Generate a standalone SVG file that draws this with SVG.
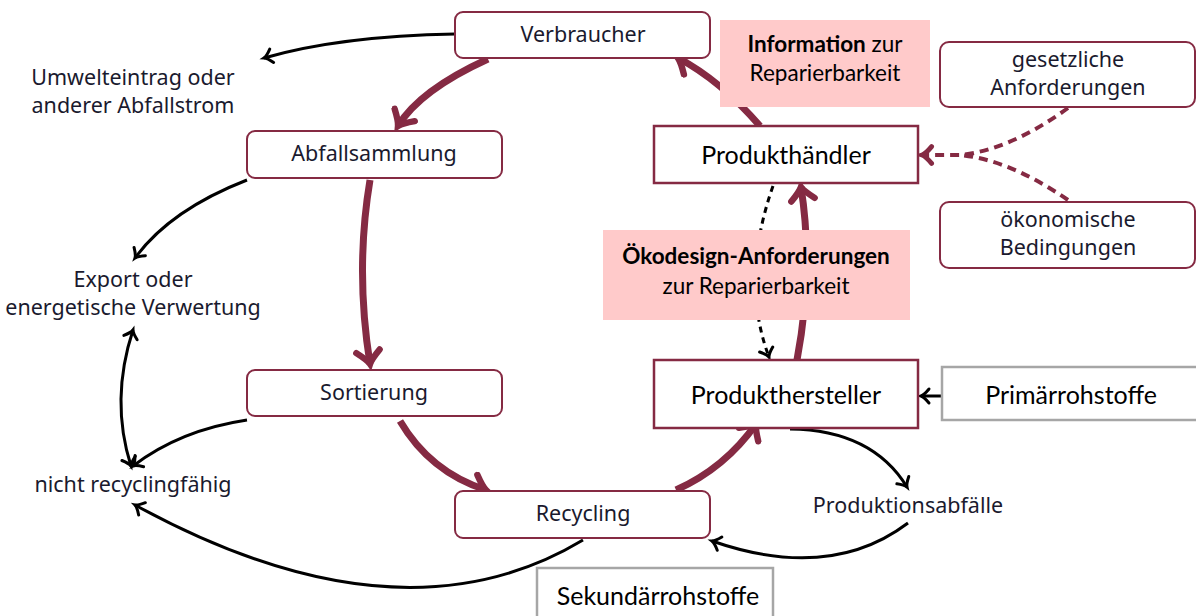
<svg xmlns="http://www.w3.org/2000/svg" width="1196" height="616" viewBox="0 0 1196 616">
<style>
.rn{fill:#fff;stroke:#852a43;stroke-width:2}
.sq{fill:#fff;stroke:#852a43;stroke-width:2.5}
.gr{fill:#fff;stroke:#a6a6a6;stroke-width:2.5}
.pk{fill:#ffcaca;stroke:none}
.lt{font-family:"Noto Sans","DejaVu Sans",sans-serif;font-size:21.5px;fill:#1a1a2e;text-anchor:middle}
.ct{font-family:"Lato","Open Sans",sans-serif;font-size:22.5px;fill:#000;text-anchor:middle}
.big{font-size:25px}
.cb{font-weight:bold}
.bk{fill:none;stroke:#000;stroke-width:3}
.mr{fill:none;stroke:#852a43;stroke-width:7}
.dk{fill:none;stroke:#000;stroke-width:3;stroke-dasharray:6 5}
.dm{fill:none;stroke:#852a43;stroke-width:4;stroke-dasharray:9 6}
</style>
<defs>
<marker id="ab" markerUnits="userSpaceOnUse" markerWidth="20" markerHeight="20" refX="0" refY="0" viewBox="-12 -10 14 20" orient="auto">
<path d="M-8,-7 Q-3,-1 0,0 Q-3,1 -8,7" fill="none" stroke="#000" stroke-width="3" stroke-linecap="round"/>
</marker>
<marker id="abs" markerUnits="userSpaceOnUse" markerWidth="20" markerHeight="20" refX="0" refY="0" viewBox="-12 -10 14 20" orient="auto-start-reverse">
<path d="M-8,-7 Q-3,-1 0,0 Q-3,1 -8,7" fill="none" stroke="#000" stroke-width="3" stroke-linecap="round"/>
</marker>
<marker id="am" markerUnits="userSpaceOnUse" markerWidth="30" markerHeight="30" refX="0" refY="0" viewBox="-16 -14 18 28" orient="auto">
<path d="M-12,-11 Q-4,-2 0,0 Q-4,2 -12,11" fill="none" stroke="#852a43" stroke-width="6" stroke-linecap="round"/>
</marker>
<marker id="ad" markerUnits="userSpaceOnUse" markerWidth="24" markerHeight="24" refX="0" refY="0" viewBox="-12 -10 14 20" orient="auto">
<path d="M-8,-7 Q-3,-1 0,0 Q-3,1 -8,7" fill="none" stroke="#852a43" stroke-width="4" stroke-linecap="round"/>
</marker>
</defs>
<g id="connectors">
<path class="bk" d="M455,34 Q340,36 264,58" marker-end="url(#ab)"/>
<path class="mr" d="M488,59 Q420,90 398,126" marker-end="url(#am)"/>
<path class="mr" d="M370,180 Q355,270 370,364" marker-end="url(#am)"/>
<path class="bk" d="M247,180 Q170,210 135,258" marker-end="url(#ab)"/>
<path class="bk" d="M247,420 Q180,430 133,466" marker-end="url(#ab)"/>
<path class="bk" d="M131,466 Q110,400 133,330" marker-start="url(#abs)" marker-end="url(#ab)"/>
<path class="bk" d="M583,540 Q400,650 135,505" marker-end="url(#ab)"/>
<path class="mr" d="M400,421 Q430,472 486,490" marker-end="url(#am)"/>
<path class="mr" d="M676,490 Q725,468 756,424" marker-end="url(#am)"/>
<path class="mr" d="M797,360 Q814,270 801,187" marker-end="url(#am)"/>
<path class="mr" d="M760,126 Q720,80 678,58" marker-end="url(#am)"/>
<path class="dk" d="M773,186 Q740,280 769,357" marker-end="url(#ab)"/>
<path class="dm" d="M1068,108 Q1010,150 960,155 L922,155" marker-end="url(#ad)"/>
<path class="dm" d="M1068,200 Q1010,160 960,155"/>
<path class="bk" d="M941,396 L921,396" marker-end="url(#ab)"/>
<path class="bk" d="M790,429 Q872,430 907,487" marker-end="url(#ab)"/>
<path class="bk" d="M908,523 Q830,582 712,541" marker-end="url(#ab)"/>
</g>
<g id="verbraucher"><rect class="rn" x="455" y="12" width="255" height="46" rx="8"/><text class="lt" x="583" y="42">Verbraucher</text></g>
<g id="information"><rect class="pk" x="720" y="20" width="210" height="87"/><text class="ct" x="825" y="52"><tspan class="cb">Information</tspan> zur</text><text class="ct" x="825" y="81">Reparierbarkeit</text></g>
<g id="gesetzliche"><rect class="rn" x="940" y="42" width="255" height="65" rx="9"/><text class="lt" x="1068" y="67">gesetzliche</text><text class="lt" x="1068" y="95">Anforderungen</text></g>
<g id="produkthaendler"><rect class="sq" x="654" y="126" width="264" height="57"/><text class="ct big" x="786" y="164">Produkthändler</text></g>
<g id="oekonomische"><rect class="rn" x="940" y="202" width="255" height="66" rx="9"/><text class="lt" x="1068" y="227">ökonomische</text><text class="lt" x="1068" y="255">Bedingungen</text></g>
<g id="oekodesign"><rect class="pk" x="603" y="230" width="307" height="90"/><text class="ct" x="756" y="264"><tspan class="cb">Ökodesign-Anforderungen</tspan></text><text class="ct" x="756" y="294">zur Reparierbarkeit</text></g>
<g id="produkthersteller"><rect class="sq" x="654" y="360" width="264" height="68"/><text class="ct big" x="786" y="404">Produkthersteller</text></g>
<g id="primaer"><rect class="gr" x="942" y="367" width="262" height="53"/><text class="ct big" x="1071" y="404">Primärrohstoffe</text></g>
<g id="abfallsammlung"><rect class="rn" x="247" y="131" width="255" height="47" rx="8"/><text class="lt" x="374" y="161">Abfallsammlung</text></g>
<g id="sortierung"><rect class="rn" x="247" y="370" width="255" height="46" rx="8"/><text class="lt" x="374" y="400">Sortierung</text></g>
<g id="recycling"><rect class="rn" x="455" y="491" width="255" height="47" rx="8"/><text class="lt" x="583" y="521">Recycling</text></g>
<g id="sekundaer"><rect class="gr" x="537" y="568" width="236" height="52"/><text class="ct big" x="658" y="605">Sekundärrohstoffe</text></g>
<g id="produktionsabfaelle"><text class="lt" x="908" y="513">Produktionsabfälle</text></g>
<g id="umwelteintrag"><text class="lt" x="133" y="85">Umwelteintrag oder</text><text class="lt" x="133" y="113">anderer Abfallstrom</text></g>
<g id="export"><text class="lt" x="133" y="287">Export oder</text><text class="lt" x="133" y="315">energetische Verwertung</text></g>
<g id="nichtrecycling"><text class="lt" x="133" y="492">nicht recyclingfähig</text></g>
</svg>
